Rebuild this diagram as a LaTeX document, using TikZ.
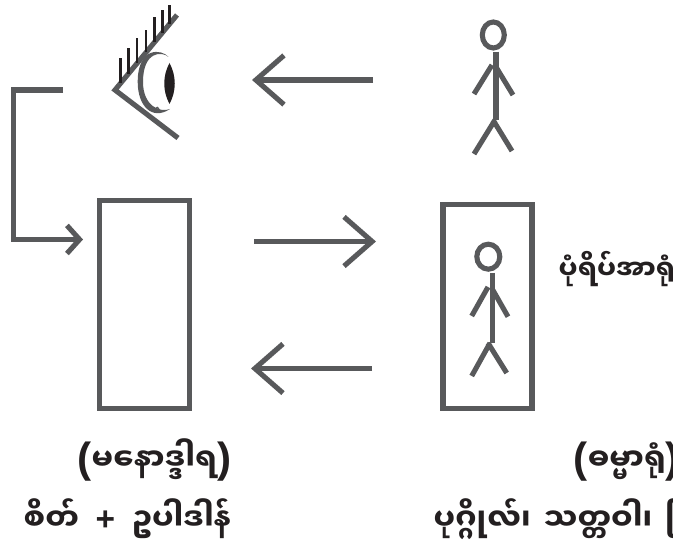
\documentclass[tikz,border=0pt]{standalone}
\usepackage{fontspec}
\usepackage{xcolor}
\usepackage{tikz}
\usetikzlibrary{arrows.meta}
\newfontfamily\mmfont[Script=Myanmar]{Noto Sans Myanmar UI}
\newfontfamily\markfont{Liberation Sans}
\newcommand{\lpar}{{\markfont\fontsize{12pt}{12pt}\selectfont\raisebox{-0.4pt}{(}}}
\newcommand{\rpar}{{\markfont\fontsize{12pt}{12pt}\selectfont\raisebox{-0.4pt}{)}}}
\newcommand{\plusmark}{{\markfont\fontsize{9.5pt}{12pt}\selectfont +}}
\definecolor{figline}{RGB}{88,89,91}
\definecolor{figdark}{RGB}{35,31,32}
\tikzset{
  sc/.style    ={draw=figline, line width=1.45pt, line cap=butt},
  lash/.style  ={draw=figdark, line width=0.75pt, line cap=butt},
  frame/.style ={draw=figline, line width=1.45pt, rectangle, inner sep=0pt, outer sep=0pt},
  lab/.style   ={font=\mmfont\fontsize{8.6pt}{12pt}\selectfont\bfseries, text=figdark, inner sep=0pt, anchor=base west},
  labs/.style  ={lab, font=\mmfont\fontsize{7.6pt}{12pt}\selectfont\bfseries},
  ptr/.style   ={sc, -{Straight Barb[length=8pt,width=14pt,line width=1.45pt]}},
  ptrs/.style  ={sc, -{Straight Barb[length=3.6pt,width=8pt,line width=1.45pt]}},
}
\begin{document}
\begin{tikzpicture}[scale=1]
  \useasboundingbox (0,0) rectangle (6.73,5.46);
  % eye
  \draw[sc,line join=miter] (1.77,5.31) -- (1.15,4.56) -- (1.78,4.08);
  \draw[lash] (1.207,4.63) -- (1.207,4.88);
  \draw[lash] (1.283,4.72) -- (1.283,4.98);
  \draw[lash] (1.37,4.83) -- (1.37,5.08);
  \draw[lash] (1.46,4.94) -- (1.46,5.16);
  \draw[lash] (1.543,5.04) -- (1.543,5.29);
  \draw[lash] (1.623,5.13) -- (1.623,5.36);
  \draw[lash] (1.693,5.22) -- (1.693,5.41);
  \fill[figline] (1.685,4.89) .. controls (1.62,4.97) and (1.377,5.00) .. (1.377,4.64)
    .. controls (1.377,4.40) and (1.52,4.25) .. (1.70,4.37)
    .. controls (1.60,4.33) and (1.43,4.40) .. (1.43,4.64)
    .. controls (1.43,4.95) and (1.62,4.95) .. (1.685,4.89);
  \fill[figdark] (1.695,4.83) .. controls (1.625,4.70) and (1.625,4.55) .. (1.695,4.42)
    .. controls (1.765,4.55) and (1.765,4.70) .. (1.695,4.83);
  \draw[draw=figline,line width=0.4pt] (1.55,4.34) .. controls (1.56,4.40) and (1.585,4.40) .. (1.595,4.34);
  % person, top
  \draw[sc] (4.933,5.11) ellipse (0.11 and 0.13);
  \draw[sc] (4.96,4.943) -- (4.96,4.26);
  \draw[sc] (4.74,4.52) -- (4.92,4.81);
  \draw[sc] (4.96,4.79) -- (5.13,4.51);
  \draw[sc] (4.74,3.92) -- (4.95,4.26);
  \draw[sc] (5.12,3.95) -- (4.93,4.26);
  % boxes
  \node[frame,minimum width=0.894cm,minimum height=2.08cm] (mind) at (1.445,2.415) {};
  \node[frame,minimum width=0.89cm,minimum height=2.04cm] (object) at (4.875,2.395) {};
  % person, in the box
  \draw[sc] (4.883,2.893) ellipse (0.115 and 0.125);
  \draw[sc] (4.927,2.73) -- (4.927,2.03);
  \draw[sc] (4.717,2.30) -- (4.88,2.59);
  \draw[sc] (4.917,2.58) -- (5.08,2.293);
  \draw[sc] (4.717,1.70) -- (4.90,2.03);
  \draw[sc] (5.067,1.73) -- (4.88,2.03);
  % arrows
  \coordinate (viewtail) at (3.73,4.66);
  \coordinate (viewtip) at (2.52,4.66);
  \coordinate (fwdtail) at (2.54,3.045);
  \coordinate (fwdtip) at (3.76,3.045);
  \coordinate (backtail) at (3.72,1.775);
  \coordinate (backtip) at (2.51,1.775);
  \coordinate (feedstart) at (0.63,4.56);
  \coordinate (feedtip) at (0.83,3.065);
  \draw[ptr] (viewtail) -- (viewtip);
  \draw[ptr] (fwdtail) -- (fwdtip);
  \draw[ptr] (backtail) -- (backtip);
  \draw[ptrs,line join=miter] (feedstart) -- (0.138,4.56) -- (0.138,3.065) -- (feedtip);
  % texts
  \node[lab] (mindname) at (0.77,0.75) {\lpar မနောဒ္ဒါရ\rpar};
  \node[lab] (mindparts) at (0.23,0.15) {စိတ်\hspace{2.5pt} \plusmark{}\hspace{2.5pt} ဥပါဒါန်};
  \node[lab] (objectname) at (5.73,0.75) {\lpar ဓမ္မာရုံ\rpar};
  \node[lab] (objectparts) at (4.33,0.15) {ပုဂ္ဂိုလ်၊\hspace{1.5pt} သတ္တဝါ၊\hspace{1.5pt} ဖြ};
  \node[labs] (imagename) at (5.58,2.66) {ပုံရိပ်အာရုံ};
\end{tikzpicture}
\end{document}
